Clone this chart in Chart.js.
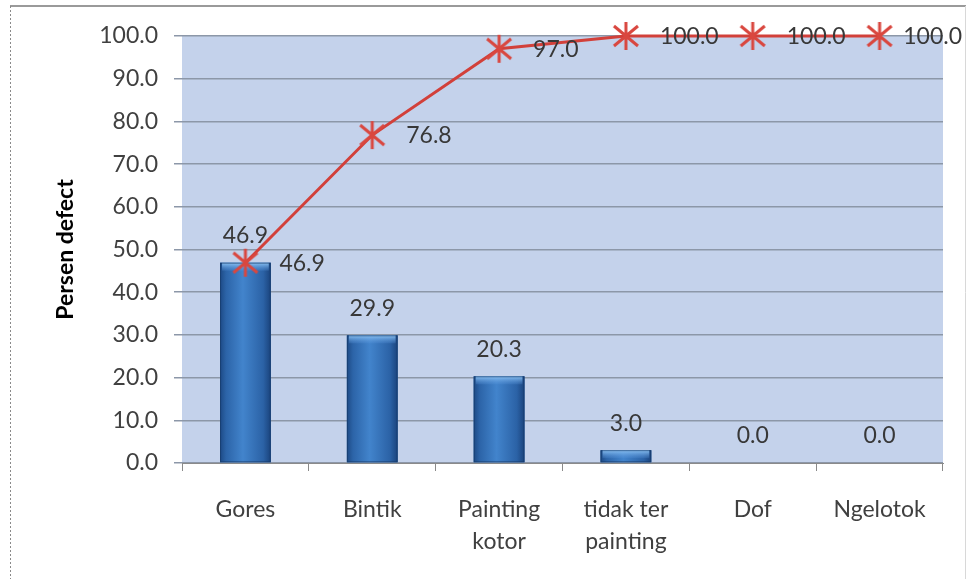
<!DOCTYPE html>
<html>
<head>
<meta charset="utf-8">
<script src="https://cdn.jsdelivr.net/npm/chart.js@4"></script>
<style>
html,body{margin:0;padding:0;background:#fff;}
#wrap{position:relative;width:970px;height:579px;}
canvas{display:block;}
</style>
</head>
<body>
<div id="wrap"><canvas id="c" width="970" height="579"></canvas></div>
<script>
const categories = [["Gores"], ["Bintik"], ["Painting", "kotor"], ["tidak ter", "painting"], ["Dof"], ["Ngelotok"]];
const persenDefect = [46.9, 29.9, 20.3, 3.0, 0.0, 0.0];
const kumulatif = [46.9, 76.8, 97.0, 100.0, 100.0, 100.0];
const yTicks = [0, 10, 20, 30, 40, 50, 60, 70, 80, 90, 100];
const yTitle = "Persen defect";

const FONT = "Lato, 'Open Sans', sans-serif";

// asterisk marker
function makeStar() {
  const s = 32, c = document.createElement('canvas');
  c.width = s; c.height = s;
  const g = c.getContext('2d');
  g.strokeStyle = '#d9473f';
  g.lineWidth = 3;
  g.lineCap = 'butt';
  g.beginPath();
  g.moveTo(16, 2); g.lineTo(16, 30);
  g.moveTo(4, 6); g.lineTo(28, 26);
  g.moveTo(28, 6); g.lineTo(4, 26);
  g.stroke();
  return c;
}
const star = makeStar();

const framePlugin = {
  id: 'frame',
  beforeDraw(chart) {
    const g = chart.ctx;
    g.save();
    g.strokeStyle = '#9a9a9a';
    g.lineWidth = 2;
    g.beginPath(); g.moveTo(10, 6); g.lineTo(966, 6); g.stroke();
    g.lineWidth = 1;
    g.strokeStyle = '#d8d8d8';
    g.beginPath(); g.moveTo(965.5, 6); g.lineTo(965.5, 579); g.stroke();
    g.strokeStyle = '#8a8a8a';
    g.setLineDash([2, 2]);
    g.beginPath(); g.moveTo(10.5, 6); g.lineTo(10.5, 579); g.stroke();
    g.restore();
    const a = chart.chartArea;
    g.save();
    g.fillStyle = '#c4d2eb';
    g.fillRect(a.left, a.top, a.right - a.left, a.bottom - a.top);
    g.restore();
  }
};

const barStylePlugin = {
  id: 'barStyle',
  afterDatasetDraw(chart, args) {
    if (args.index !== 0) return;
    const g = chart.ctx;
    args.meta.data.forEach(el => {
      const p = el.getProps(['x', 'y', 'base', 'width'], true);
      const h = p.base - p.y;
      if (h <= 0.5) return;
      const l = p.x - p.width / 2, r = p.x + p.width / 2;
      const grad = g.createLinearGradient(l, 0, r, 0);
      grad.addColorStop(0, '#1d4a85');
      grad.addColorStop(0.12, '#2c64a8');
      grad.addColorStop(0.45, '#4284cc');
      grad.addColorStop(0.85, '#2b62a6');
      grad.addColorStop(1, '#1a437c');
      g.save();
      g.fillStyle = grad;
      g.fillRect(l, p.y, p.width, h);
      const capH = Math.min(8, h);
      const cg = g.createLinearGradient(0, p.y, 0, p.y + capH);
      cg.addColorStop(0, '#8cc2f2');
      cg.addColorStop(1, 'rgba(90,150,220,0.2)');
      g.fillStyle = cg;
      g.fillRect(l + 2, p.y, p.width - 4, capH);
      g.strokeStyle = 'rgba(20,55,100,0.6)';
      g.lineWidth = 1;
      g.strokeRect(l + 0.5, p.y + 0.5, p.width - 1, h - 1);
      g.restore();
    });
  }
};

const labelPlugin = {
  id: 'labels',
  afterDatasetsDraw(chart) {
    const g = chart.ctx;
    g.save();
    g.font = '23px ' + FONT;
    g.fillStyle = '#383838';
    g.textBaseline = 'middle';
    const bm = chart.getDatasetMeta(0);
    bm.data.forEach((el, i) => {
      g.textAlign = 'center';
      g.fillText(persenDefect[i].toFixed(1), el.x, el.y - 27);
    });
    const lm = chart.getDatasetMeta(1);
    lm.data.forEach((el, i) => {
      const t = kumulatif[i].toFixed(1);
      const w = g.measureText(t).width;
      const x = Math.min(el.x + 34, chart.width - 8 - w);
      g.textAlign = 'left';
      g.fillText(t, x, el.y + 1);
    });
    g.restore();
  }
};

new Chart(document.getElementById('c'), {
  data: {
    labels: categories,
    datasets: [
      {
        type: 'bar',
        data: persenDefect,
        backgroundColor: '#2f6db5',
        barPercentage: 0.4,
        categoryPercentage: 1.0,
        order: 1
      },
      {
        type: 'line',
        data: kumulatif,
        borderColor: '#d2403a',
        borderWidth: 3,
        pointStyle: star,
        pointRadius: 14,
        pointHoverRadius: 14,
        tension: 0,
        clip: false,
        order: 0
      }
    ]
  },
  options: {
    responsive: false,
    animation: false,
    devicePixelRatio: 1,
    events: [],
    layout: { padding: { left: 48, right: 27, top: 36, bottom: 0 } },
    plugins: { legend: { display: false }, tooltip: { enabled: false } },
    scales: {
      x: {
        offset: true,
        afterFit(s) { s.height = 116; },
        grid: { offset: true, drawOnChartArea: false, drawTicks: true, tickLength: 8, color: '#8a8a8a' },
        border: { color: '#8a8a8a' },
        ticks: {
          color: '#404040',
          padding: 22,
          maxRotation: 0,
          autoSkip: false,
          font: { family: FONT, size: 23, lineHeight: 1.4 }
        }
      },
      y: {
        min: 0, max: 100,
        afterFit(s) { s.width = 134; },
        afterBuildTicks(s) { s.ticks = yTicks.map(v => ({ value: v })); },
        grid: { color: '#8c97a8', lineWidth: 1.5, tickLength: 8, drawTicks: true },
        border: { display: false },
        title: {
          display: true,
          text: yTitle,
          color: '#000',
          font: { family: FONT, size: 23, weight: 'bold' },
          padding: { top: 4, bottom: 4 }
        },
        ticks: {
          color: '#404040',
          padding: 16,
          font: { family: FONT, size: 23 },
          callback: v => Number(v).toFixed(1)
        }
      }
    }
  },
  plugins: [framePlugin, barStylePlugin, labelPlugin]
});
</script>
</body>
</html>
